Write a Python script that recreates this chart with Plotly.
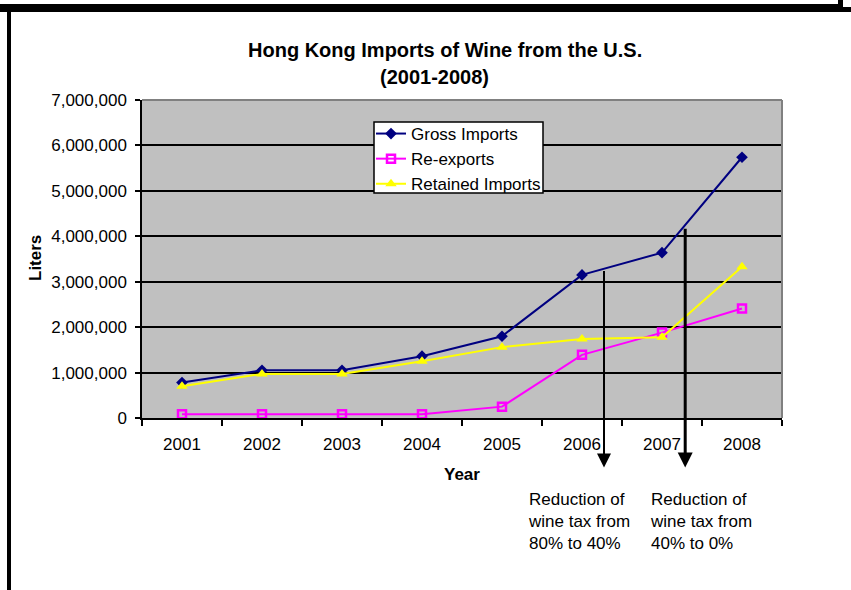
import plotly.graph_objects as go

# Hong Kong wine imports from the U.S., liters per year
years = ["2001", "2002", "2003", "2004", "2005", "2006", "2007", "2008"]
gross_imports = [780000, 1050000, 1050000, 1360000, 1800000, 3150000, 3640000, 5740000]
re_exports = [80000, 80000, 80000, 80000, 250000, 1390000, 1880000, 2410000]
retained_imports = [700000, 970000, 970000, 1250000, 1560000, 1740000, 1780000, 3330000]

# tax-change markers: category position and arrow top (liters)
tax_events = [
    {"pos": 5.275, "top": 3270000, "width": 2, "head": 1.4,
     "text": "Reduction of<br>wine tax from<br>80% to 40%", "text_x": 526},
    {"pos": 6.29, "top": 4200000, "width": 3, "head": 1.0,
     "text": "Reduction of<br>wine tax from<br>40% to 0%", "text_x": 648},
]
arrow_tip = -1090000

W, H = 851, 590
L, R, T, B = 142, 69, 100, 172
PW, PH = W - L - R, H - T - B

FONT = "Arial, 'Liberation Sans', sans-serif"


def px(x):
    return (x - L) / PW


def py(y):
    return (H - B - y) / PH


fig = go.Figure()
fig.add_trace(go.Scatter(
    x=years, y=gross_imports, name="Gross Imports", mode="lines+markers",
    line=dict(color="#000080", width=2),
    marker=dict(symbol="diamond", size=9, color="#000080"),
))
fig.add_trace(go.Scatter(
    x=years, y=re_exports, name="Re-exports", mode="lines+markers",
    line=dict(color="#FF00FF", width=2),
    marker=dict(symbol="square-open", size=8, color="#FF00FF", line=dict(width=2.5)),
))
fig.add_trace(go.Scatter(
    x=years, y=retained_imports, name="Retained Imports", mode="lines+markers",
    line=dict(color="#FFFF00", width=2),
    marker=dict(symbol="triangle-up", size=10, color="#FFFF00"),
))

centered = dict(xref="paper", yref="paper", xanchor="center", yanchor="middle",
                showarrow=False)
annotations = [
    dict(text="<b>Hong Kong Imports of Wine from the U.S.</b>", x=px(445), y=py(50),
         font=dict(size=20, color="black"), **centered),
    dict(text="<b>(2001-2008)</b>", x=px(434), y=py(77),
         font=dict(size=20, color="black"), **centered),
    dict(text="<b>Liters</b>", x=px(35), y=py(258), textangle=-90,
         font=dict(size=17, color="black"), **centered),
    dict(text="<b>Year</b>", x=px(462), y=py(474),
         font=dict(size=17, color="black"), **centered),
]
for ev in tax_events:
    annotations.append(dict(
        x=ev["pos"], y=arrow_tip, ax=ev["pos"], ay=ev["top"],
        xref="x", yref="y", axref="x", ayref="y", text="",
        showarrow=True, arrowhead=2, arrowsize=ev["head"], arrowwidth=ev["width"],
        arrowcolor="black", standoff=0, startstandoff=0,
    ))
    annotations.append(dict(
        text=ev["text"], x=px(ev["text_x"]), y=py(488), xref="paper", yref="paper",
        xanchor="left", yanchor="top", align="left", showarrow=False,
        font=dict(size=17, color="black"),
    ))

shapes = [
    # plot-area border, top and right
    dict(type="line", xref="paper", yref="paper", x0=0, x1=1, y0=1, y1=1,
         line=dict(color="#808080", width=2)),
    dict(type="line", xref="paper", yref="paper", x0=1, x1=1, y0=0, y1=1,
         line=dict(color="#808080", width=2)),
    # legend box
    dict(type="rect", xref="paper", yref="paper", x0=px(374), x1=px(543),
         y0=py(122), y1=py(193), fillcolor="white",
         line=dict(color="black", width=1.5), layer="above"),
    # outer frame
    dict(type="rect", xref="paper", yref="paper", x0=px(0), x1=px(838), y0=py(4), y1=py(12),
         fillcolor="black", line=dict(width=0), layer="above"),
    dict(type="rect", xref="paper", yref="paper", x0=px(838), x1=px(843), y0=py(0), y1=py(12),
         fillcolor="black", line=dict(width=0), layer="above"),
    dict(type="rect", xref="paper", yref="paper", x0=px(843), x1=px(851), y0=py(7), y1=py(12),
         fillcolor="black", line=dict(width=0), layer="above"),
    dict(type="rect", xref="paper", yref="paper", x0=px(7), x1=px(11), y0=py(4), y1=py(590),
         fillcolor="black", line=dict(width=0), layer="above"),
]

fig.update_layout(
    width=W, height=H,
    margin=dict(l=L, r=R, t=T, b=B, pad=0),
    paper_bgcolor="white", plot_bgcolor="#C0C0C0",
    font=dict(family=FONT, size=17, color="black"),
    showlegend=True,
    legend=dict(
        x=px(371), y=py(116), xanchor="left", yanchor="top",
        bgcolor="rgba(0,0,0,0)", borderwidth=0,
        font=dict(size=17), tracegroupgap=0, itemwidth=30,
    ),
    xaxis=dict(
        type="category", range=[-0.5, 7.5], tickson="boundaries",
        ticks="outside", ticklen=6, tickwidth=2, tickcolor="black",
        showline=True, linecolor="black", linewidth=2, showgrid=False,
        tickfont=dict(size=17), ticklabelstandoff=10, fixedrange=True,
    ),
    yaxis=dict(
        range=[0, 7000000], dtick=1000000, tickformat=",d",
        ticks="outside", ticklen=5, tickwidth=1.5, tickcolor="black",
        showline=True, linecolor="black", linewidth=1.5,
        showgrid=True, gridcolor="black", gridwidth=1.5, zeroline=False,
        tickfont=dict(size=17), ticklabelstandoff=5, fixedrange=True,
    ),
    annotations=annotations,
    shapes=shapes,
)

fig.write_html("out.html")
